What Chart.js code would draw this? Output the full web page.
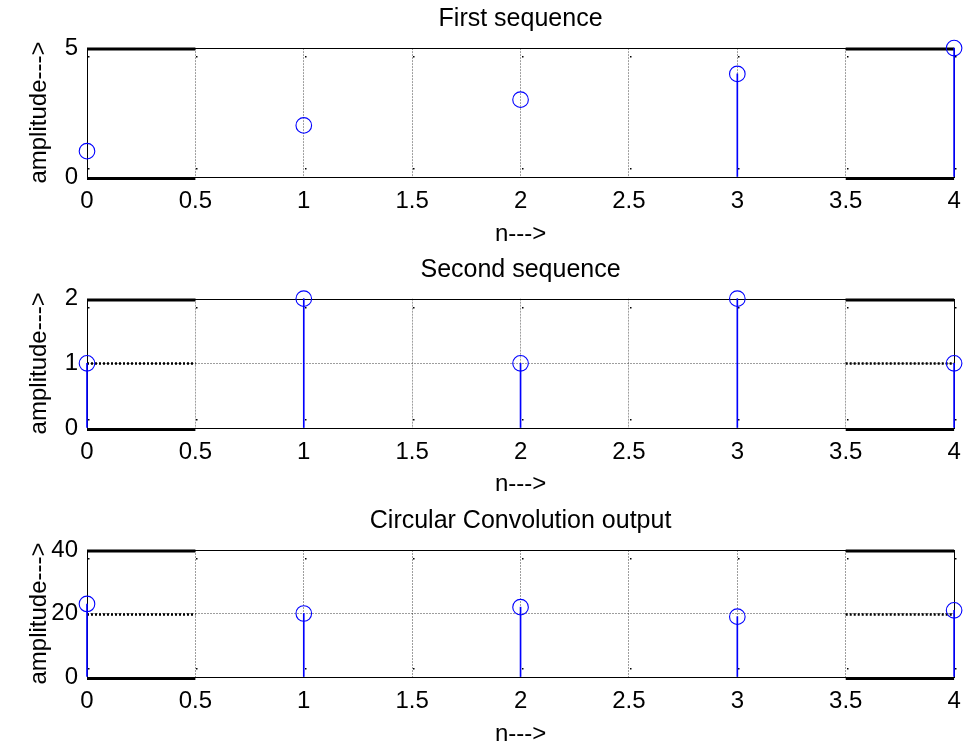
<!DOCTYPE html>
<html>
<head>
<meta charset="utf-8">
<script src="https://cdn.jsdelivr.net/npm/chart.js@4.4.0/dist/chart.umd.min.js"></script>
<style>
  html, body { margin: 0; padding: 0; background: #fff; overflow: hidden; }
  #wrap { position: relative; width: 963px; height: 749px; }
  canvas { position: absolute; left: 0; }
</style>
</head>
<body>
<div id="wrap">
  <canvas id="plot1" width="963" height="250" style="top:0"></canvas>
  <canvas id="plot2" width="963" height="250" style="top:250px"></canvas>
  <canvas id="plot3" width="963" height="249" style="top:500px"></canvas>
</div>
<script>
// sample index and the three sequences
const nValues = [0, 1, 2, 3, 4];
const firstSequence = [1, 2, 3, 4, 5];
const secondSequence = [1, 2, 1, 2, 1];
const circularOutput = [23, 20, 22, 19, 21];

// axis ticks
const xTickValues = [0, 0.5, 1, 1.5, 2, 2.5, 3, 3.5, 4];
const xTickLabels = ['0', '0.5', '1', '1.5', '2', '2.5', '3', '3.5', '4'];
const yTicksFirst = [0, 5];
const yTicksSecond = [0, 1, 2];
const yTicksOutput = [0, 20, 40];

// in the first plot only the last two stems show up
const stemShownFirst = [false, false, false, true, true];
const stemShownAll = [true, true, true, true, true];

const titles = ['First sequence', 'Second sequence', 'Circular Convolution output'];
const xLabel = 'n--->';
const yLabel = 'amplitude--->';

const BLUE = '#0000ff';
const GRID = 'rgba(0, 0, 0, 0.38)';
const NONE = 'rgba(0, 0, 0, 0)';
const FONT = "'Liberation Sans', Arial, sans-serif";

Chart.defaults.font.family = FONT;
Chart.defaults.color = '#000';

// MATLAB-ish box: thin frame, thick end pieces, dotted inner grid at the ends, tick dots
const matlabFrame = {
    id: 'matlabFrame',
    beforeDatasetsDraw(chart) {
        const { ctx, chartArea, scales } = chart;
        const x = scales.x, y = scales.y;
        const L = Math.round(chartArea.left) + 0.5;
        const R = Math.round(chartArea.right) + 0.5;
        const T = Math.round(chartArea.top) + 0.5;
        const B = Math.round(chartArea.bottom) + 0.5;

        ctx.save();
        ctx.strokeStyle = '#000';
        ctx.lineWidth = 1;
        ctx.strokeRect(L, T, R - L, B - T);

        const ends = [[0, 0.5], [3.5, 4]];
        ends.forEach(([a, b]) => {
            const x0 = x.getPixelForValue(a);
            const x1 = x.getPixelForValue(b);
            ctx.lineWidth = 3;
            ctx.setLineDash([]);
            [T + 0.5, B + 1].forEach(yy => {
                ctx.beginPath();
                ctx.moveTo(x0, yy);
                ctx.lineTo(x1, yy);
                ctx.stroke();
            });
            // inner horizontal grid lines become thick dots here
            ctx.lineWidth = 2.5;
            ctx.setLineDash([2, 2]);
            y.ticks.slice(1, -1).forEach(t => {
                const yy = Math.round(y.getPixelForValue(t.value)) + 0.5;
                ctx.beginPath();
                ctx.moveTo(x0, yy);
                ctx.lineTo(x1, yy);
                ctx.stroke();
            });
        });

        ctx.setLineDash([]);
        ctx.fillStyle = '#000';
        x.ticks.forEach(t => {
            const px = Math.round(x.getPixelForValue(t.value));
            ctx.fillRect(px + 1, T + 7.5, 1.5, 1.5);
            ctx.fillRect(px + 1, B - 9.5, 1.5, 1.5);
        });
        ctx.restore();
    }
};

function makeChart(id, values, yTicks, title, stemShown, box) {
    const yMax = yTicks[yTicks.length - 1];
    const points = nValues.map((n, i) => ({ x: n, y: values[i] }));
    const font = { family: FONT, size: 24, weight: 'normal' };

    return new Chart(document.getElementById(id), {
        type: 'bar',
        data: {
            datasets: [{
                type: 'scatter',
                data: points,
                borderColor: BLUE,
                backgroundColor: NONE,
                pointRadius: 7.8,
                pointBorderWidth: 1.1,
                clip: false,
                order: 0
            }, {
                type: 'bar',
                data: points,
                backgroundColor: stemShown.map(s => s ? BLUE : NONE),
                barThickness: 1,
                borderWidth: 0,
                clip: false,
                order: 1
            }]
        },
        options: {
            responsive: false,
            animation: false,
            events: [],
            layout: {
                padding: { top: 0, left: 0, right: 0, bottom: 0 }
            },
            plugins: {
                legend: { display: false },
                tooltip: { enabled: false },
                title: {
                    display: true,
                    text: title,
                    fullSize: false,
                    color: '#000',
                    font: { family: FONT, size: 25, weight: 'normal' },
                    padding: { top: box.titleTop, bottom: box.titleBottom }
                }
            },
            scales: {
                x: {
                    type: 'linear',
                    min: 0,
                    max: 4,
                    offset: false,
                    afterBuildTicks: s => { s.ticks = xTickValues.map(v => ({ value: v })); },
                    afterFit: s => {
                        s.height = box.xAxisHeight;
                        // keep the plot box 8px from the right edge
                        s.paddingLeft = 0;
                        s.paddingRight = 8;
                    },
                    grid: {
                        offset: false,
                        drawTicks: false,
                        lineWidth: 1,
                        color: c => (c.tick && (c.tick.value === 0 || c.tick.value === 4)) ? NONE : GRID
                    },
                    border: { display: false, dash: [2, 1] },
                    ticks: {
                        padding: 10,
                        color: '#000',
                        font: font,
                        autoSkip: false,
                        maxRotation: 0,
                        callback: (value) => xTickLabels[xTickValues.indexOf(value)]
                    },
                    title: {
                        display: true,
                        text: xLabel,
                        color: '#000',
                        font: font,
                        padding: { top: 0, bottom: box.xTitleBottom }
                    }
                },
                y: {
                    type: 'linear',
                    min: 0,
                    max: yMax,
                    afterBuildTicks: s => { s.ticks = yTicks.map(v => ({ value: v })); },
                    afterFit: s => { s.width = 87; },
                    grid: {
                        drawTicks: false,
                        lineWidth: 1,
                        color: c => (c.tick && (c.tick.value === 0 || c.tick.value === yMax)) ? NONE : GRID
                    },
                    border: { display: false, dash: [2, 1] },
                    ticks: {
                        padding: 9,
                        color: '#000',
                        font: font
                    },
                    title: {
                        display: true,
                        text: yLabel,
                        color: '#000',
                        font: font,
                        padding: { top: 25, bottom: 0 }
                    }
                }
            }
        },
        plugins: [matlabFrame]
    });
}

makeChart('plot1', firstSequence, yTicksFirst, titles[0], stemShownFirst,
    { titleTop: 4.4, titleBottom: 13.7, xAxisHeight: 73, xTitleBottom: 1.6 });
makeChart('plot2', secondSequence, yTicksSecond, titles[1], stemShownAll,
    { titleTop: 5.4, titleBottom: 13.3, xAxisHeight: 72, xTitleBottom: 1.6 });
makeChart('plot3', circularOutput, yTicksOutput, titles[2], stemShownAll,
    { titleTop: 6, titleBottom: 14, xAxisHeight: 72, xTitleBottom: 0.6 });
</script>
</body>
</html>
